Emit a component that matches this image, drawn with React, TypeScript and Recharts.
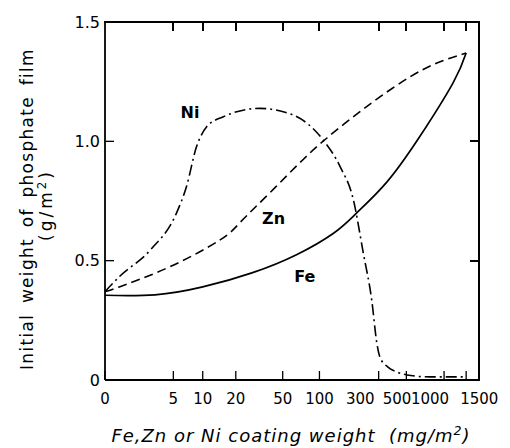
import React from 'react';
import { LineChart, Line, XAxis, YAxis, ReferenceDot } from 'recharts';

// coating weight (mg/m2) tick marks on the x axis
const tickWeights = [0, 5, 10, 20, 50, 100, 300, 500, 1000, 1500];
const filmTicks = [0, 0.5, 1.0, 1.5];
const filmTickLabels = ['0', '0.5', '1.0', '1.5'];

// initial weight of phosphate film (g/m2) vs coating weight
const feWeight = [0, 3, 10, 28, 65, 130, 200, 350, 640, 1180, 1500];
const feFilm = [0.355, 0.357, 0.39, 0.45, 0.525, 0.615, 0.7, 0.83, 1.02, 1.245, 1.37];

const znWeight = [0, 0.6, 4.6, 14.5, 21.8, 39, 73, 115, 187, 307, 534, 877, 1500];
const znFilm = [0.37, 0.39, 0.475, 0.587, 0.66, 0.784, 0.922, 1.014, 1.102, 1.186, 1.27, 1.328, 1.37];

const niWeight = [0, 0.6, 2.6, 5.4, 6.9, 8.7, 10.9, 15.5, 32, 61, 107, 147, 188, 226, 264, 291, 307, 356, 421, 505, 772, 1500];
const niFilm = [0.37, 0.433, 0.545, 0.698, 0.81, 0.977, 1.061, 1.103, 1.138, 1.11, 1.006, 0.894, 0.755, 0.531, 0.335, 0.15, 0.096, 0.054, 0.034, 0.021, 0.013, 0.013];

const curveLabels = [
  { name: 'Ni', weight: 7.5, film: 1.12 },
  { name: 'Zn', weight: 42, film: 0.677 },
  { name: 'Fe', weight: 76, film: 0.434 },
];

// the original weight axis is compressed roughly like log10(1 + w/2)
const toAxis = (w: number) => Math.log10(1 + w / 2);
const X_MAX = 2.978;
const Y_MAX = 1.5;
const xTicks = tickWeights.map(toAxis);

const toPoints = (ws: number[], vs: number[]) => ws.map((w, i) => ({ x: toAxis(w), y: vs[i] }));
const fePts = toPoints(feWeight, feFilm);
const znPts = toPoints(znWeight, znFilm);
const niPts = toPoints(niWeight, niFilm);

// chart layout
const W = 510;
const H = 448;
const Y_AXIS_W = 105;
const X_AXIS_H = 68;
const M_TOP = 22;
const M_RIGHT = 31;
const PLOT_L = Y_AXIS_W;
const PLOT_R = W - M_RIGHT;
const PLOT_T = M_TOP;
const PLOT_B = H - X_AXIS_H;
const TICK = 9;

const FONT = '"DejaVu Sans", sans-serif';

const XTick = (props: any) => {
  const { x, y, index } = props;
  const w = tickWeights[index];
  // the hand-lettered labels at the crowded right end sit off-centre
  let anchor = 'middle';
  let dx = 0;
  if (w === 1500) {
    anchor = 'start';
    dx = -6;
  } else if (w === 300) {
    anchor = 'end';
    dx = -4;
  } else if (w >= 500) {
    anchor = 'end';
    dx = 5;
  }
  return (
    <text x={x + dx} y={y} dy="0.71em" textAnchor={anchor} fontSize={15} fontFamily={FONT} fill="#000">
      {w}
    </text>
  );
};

// top and right sides of the box with their inward ticks, as plain HTML on top of the chart
function Frame() {
  const px = (t: number) => PLOT_L + (t / X_MAX) * (PLOT_R - PLOT_L);
  const py = (v: number) => PLOT_B - (v / Y_MAX) * (PLOT_B - PLOT_T);
  return (
    <>
      <div
        style={{
          position: 'absolute',
          left: PLOT_L - 1,
          top: PLOT_T - 1,
          width: PLOT_R - PLOT_L,
          height: PLOT_B - PLOT_T,
          borderTop: '2px solid #000',
          borderRight: '2px solid #000',
          zIndex: 5,
          pointerEvents: 'none',
        }}
      />
      {xTicks.slice(1).map((t) => (
        <div
          key={`tx${t}`}
          style={{
            position: 'absolute',
            left: Math.round(px(t)) - 1,
            top: PLOT_T,
            width: 1.5,
            height: TICK,
            background: '#000',
            zIndex: 5,
          }}
        />
      ))}
      {filmTicks.slice(1, -1).map((v) => (
        <div
          key={`ty${v}`}
          style={{
            position: 'absolute',
            left: PLOT_R - TICK,
            top: Math.round(py(v)) - 1,
            width: TICK,
            height: 1.5,
            background: '#000',
            zIndex: 5,
          }}
        />
      ))}
    </>
  );
}

const axisLine = { stroke: '#000', strokeWidth: 1.8 };
const tickLine = { stroke: '#000', strokeWidth: 1.3 };

export default function App() {
  return (
    <div style={{ position: 'absolute', left: 0, top: 0, width: W, height: H, background: '#fff', fontFamily: FONT }}>
      <LineChart width={W} height={H} margin={{ top: M_TOP, right: M_RIGHT, bottom: 0, left: 0 }}>
        <XAxis
          dataKey="x"
          type="number"
          domain={[0, X_MAX]}
          ticks={xTicks}
          interval={0}
          allowDataOverflow
          height={X_AXIS_H}
          tickSize={-TICK}
          tickMargin={22}
          axisLine={axisLine}
          tickLine={tickLine}
          tick={<XTick />}
        />
        <YAxis
          type="number"
          domain={[0, Y_MAX]}
          ticks={filmTicks}
          interval={0}
          allowDataOverflow
          width={Y_AXIS_W}
          tickSize={-TICK}
          tickMargin={14}
          axisLine={axisLine}
          tickLine={tickLine}
          tick={{ fontSize: 16, fill: '#000', fontFamily: FONT }}
          tickFormatter={(v: number, i: number) => filmTickLabels[i]}
        />
        <Line
          data={fePts}
          dataKey="y"
          type="natural"
          stroke="#000"
          strokeWidth={1.7}
          dot={false}
          isAnimationActive={false}
        />
        <Line
          data={znPts}
          dataKey="y"
          type="natural"
          stroke="#000"
          strokeWidth={1.6}
          strokeDasharray="9 5"
          dot={false}
          isAnimationActive={false}
        />
        <Line
          data={niPts}
          dataKey="y"
          type="monotone"
          stroke="#000"
          strokeWidth={1.6}
          strokeDasharray="11 4 2 4"
          dot={false}
          isAnimationActive={false}
        />
        {curveLabels.map((c) => (
          <ReferenceDot
            key={c.name}
            x={toAxis(c.weight)}
            y={c.film}
            r={0}
            fill="none"
            stroke="none"
            label={{ value: c.name, position: 'center', fill: '#000', fontSize: 16, fontWeight: 700, fontFamily: FONT }}
          />
        ))}
      </LineChart>

      <Frame />

      <div
        style={{
          position: 'absolute',
          left: 27,
          top: 209,
          transform: 'translate(-50%, -50%) rotate(-90deg)',
          whiteSpace: 'nowrap',
          fontSize: 17,
          letterSpacing: 1.3,
          wordSpacing: 4,
          lineHeight: 1,
        }}
      >
        Initial weight of phosphate film
      </div>
      <div
        style={{
          position: 'absolute',
          left: 46,
          top: 205,
          transform: 'translate(-50%, -50%) rotate(-90deg)',
          whiteSpace: 'nowrap',
          fontSize: 17,
          letterSpacing: 3,
          lineHeight: 1,
        }}
      >
        (g/m<span style={{ fontSize: '0.7em', verticalAlign: '0.55em' }}>2</span>)
      </div>
      <div
        style={{
          position: 'absolute',
          left: 291,
          top: 435,
          transform: 'translate(-50%, -50%)',
          whiteSpace: 'nowrap',
          fontSize: 18,
          fontStyle: 'italic',
          letterSpacing: 1,
          lineHeight: 1,
        }}
      >
        Fe,Zn or Ni coating weight&nbsp;&nbsp;(mg/m<span style={{ fontSize: '0.7em', verticalAlign: '0.55em' }}>2</span>)
      </div>
    </div>
  );
}
